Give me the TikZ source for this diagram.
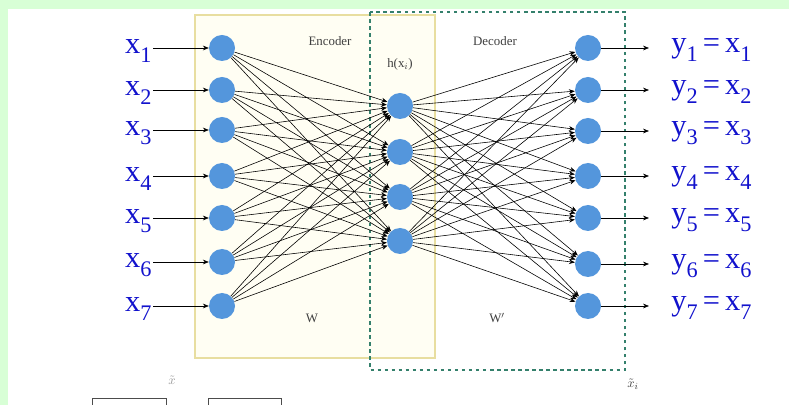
\documentclass[tikz,border=0pt]{standalone}
\usepackage{fontspec}
\setmainfont{Liberation Serif}
\usetikzlibrary{arrows.meta}

\definecolor{bandgreen}{RGB}{216,255,214}
\definecolor{unitblue}{RGB}{84,150,220}
\definecolor{labelblue}{RGB}{18,18,205}
\definecolor{encline}{RGB}{232,222,160}
\definecolor{encfill}{RGB}{255,254,243}
\definecolor{decline}{RGB}{52,128,108}

\newcommand{\lsub}[1]{\raisebox{-0.28em}{\fontsize{19}{20}\selectfont #1}}

\begin{document}
\begin{tikzpicture}[
    x=0.03cm, y=-0.03cm,
    neuron/.style={circle, fill=unitblue, minimum size=0.78cm, inner sep=0pt},
    inlabel/.style={text=labelblue, font=\fontsize{26}{28}\selectfont, anchor=east, inner sep=1pt},
    outlabel/.style={text=labelblue, font=\fontsize{26}{28}\selectfont, anchor=west, inner sep=1pt},
    small/.style={text=black!75, font=\fontsize{11}{13}\selectfont},
    link/.style={-{Stealth[length=5pt, width=4pt]}, black, line width=0.5pt},
    >=Stealth
]

\useasboundingbox (0,0) rectangle (789,405);
\clip (0,0) rectangle (789,405);

% page background
\fill[white] (0,0) rectangle (789,405);
\fill[bandgreen] (0,0) rectangle (789,9);
\fill[bandgreen] (0,0) rectangle (8,405);

% encoder / decoder frames
\filldraw[fill=encfill, draw=encline, line width=1.3pt] (195,15) rectangle (435,358);
\draw[decline, dashed, line width=1pt] (370,12) rectangle (625,370);

% units
\node[neuron] (in1) at (222,48) {};
\node[neuron] (in2) at (222,90) {};
\node[neuron] (in3) at (222,130) {};
\node[neuron] (in4) at (222,176) {};
\node[neuron] (in5) at (222,218) {};
\node[neuron] (in6) at (222,262) {};
\node[neuron] (in7) at (222,306) {};

\node[neuron] (hid1) at (400,106) {};
\node[neuron] (hid2) at (400,152) {};
\node[neuron] (hid3) at (400,197) {};
\node[neuron] (hid4) at (400,241) {};

\node[neuron] (out1) at (588,48) {};
\node[neuron] (out2) at (588,90) {};
\node[neuron] (out3) at (588,131) {};
\node[neuron] (out4) at (588,176) {};
\node[neuron] (out5) at (588,218) {};
\node[neuron] (out6) at (588,264) {};
\node[neuron] (out7) at (588,306) {};

% weights
\foreach \i in {1,...,7}
  \foreach \j in {1,...,4} {
    \draw[link] (in\i) -- (hid\j);
    \draw[link] (hid\j) -- (out\i);
  }

% inputs and outputs
\foreach \i in {1,...,7} {
  \node[inlabel] (xl\i) at ([xshift=-69*0.03cm, yshift=-0.09cm]in\i.center) {x\lsub{\i}};
  \node[outlabel] (yl\i) at ([xshift=82*0.03cm, yshift=-0.06cm]out\i.center) {y\lsub{\i}\,=\,x\lsub{\i}};
  \draw[link] (xl\i.east |- in\i.center) -- (in\i);
  \draw[link, shorten >=18pt] (out\i) -- (yl\i.west |- out\i.center);
}

% captions
\node[small] (enc) at (330,41) {Encoder};
\node[small] (dec) at (495,41) {Decoder};
\node[small] (code) at (400,64) {h(x$_i$)};
\node[small] (wenc) at (312,318) {W};
\node[small] (wdec) at (497,318) {W$'$};
\node[small] (xrec) at (633,384) {$\tilde{x}_i$};
\node[small, text=black!40] (xin) at (172,380) {$\tilde{x}$};

% cut-off boxes at the bottom
\draw[black!70, line width=0.6pt] (92,398) rectangle (166,420);
\draw[black!70, line width=0.6pt] (208,398) rectangle (281,420);

\end{tikzpicture}
\end{document}
